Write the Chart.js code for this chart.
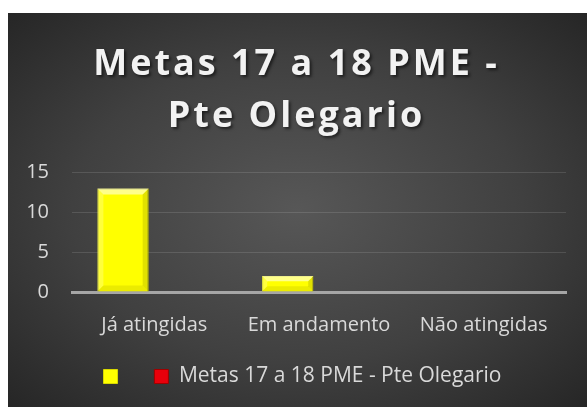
<!DOCTYPE html>
<html>
<head>
<meta charset="utf-8">
<script src="https://cdn.jsdelivr.net/npm/chart.js@4/dist/chart.umd.min.js"></script>
<style>
  html, body { margin: 0; padding: 0; background: #fff; }
  #wrap {
    position: absolute; left: 8px; top: 13px; width: 579px; height: 394px;
    background: radial-gradient(ellipse farthest-corner at 50% 50%, #575757 0%, #404040 55%, #262626 100%);
  }
</style>
</head>
<body>
<div id="wrap"><canvas id="chart" width="579" height="394"></canvas></div>
<script>
// values
const categories = ["Já atingidas", "Em andamento", "Não atingidas"];
const seriesA = [13, 2, 0];
const seriesB = [0, 0, 0];
const seriesNames = ["   ", "Metas 17 a 18 PME - Pte Olegario"];
const titleLines = ["Metas 17 a 18 PME -", "Pte Olegario"];
const yTicks = [0, 5, 10, 15];

const FONT = "'Open Sans', 'Noto Sans', sans-serif";

// wide letter spacing + soft shadow on the title, like the original
const titleStyle = {
  id: "titleStyle",
  beforeDraw(chart) {
    const tb = chart.titleBlock;
    if (!tb || tb._styled) return;
    const orig = tb.draw.bind(tb);
    tb.draw = function () {
      const ctx = chart.ctx;
      ctx.save();
      ctx.letterSpacing = "3px";
      ctx.shadowColor = "rgba(0,0,0,0.55)";
      ctx.shadowOffsetX = 2;
      ctx.shadowOffsetY = 2;
      ctx.shadowBlur = 3;
      orig();
      ctx.restore();
    };
    tb._styled = true;
  },
};

// the original legend sits a little right of centre
const legendNudge = {
  id: "legendNudge",
  afterLayout(chart) {
    if (!chart.legend) return;
    chart.legend.left += 6;
    chart.legend.right += 6;
  },
};

// simple bevel on each bar, using the bar elements' own geometry
const bevel = {
  id: "bevel",
  afterDatasetsDraw(chart) {
    const ctx = chart.ctx;
    chart.getDatasetMeta(0).data.forEach((bar) => {
      const p = bar.getProps(["x", "y", "base", "width"], true);
      const l = p.x - p.width / 2, r = p.x + p.width / 2, t = p.y, b = p.base;
      const h = b - t;
      if (h < 1) return;
      const s = Math.min(6, h / 3);
      const quad = (pts, fill) => {
        ctx.beginPath();
        ctx.moveTo(pts[0][0], pts[0][1]);
        for (let i = 1; i < pts.length; i++) ctx.lineTo(pts[i][0], pts[i][1]);
        ctx.closePath();
        ctx.fillStyle = fill;
        ctx.fill();
      };
      ctx.save();
      quad([[l, t], [r, t], [r - s, t + s], [l + s, t + s]], "rgba(255,255,230,0.6)");
      quad([[l, t], [l + s, t + s], [l + s, b - s], [l, b]], "rgba(255,255,200,0.3)");
      quad([[r, t], [r, b], [r - s, b - s], [r - s, t + s]], "rgba(120,120,0,0.22)");
      quad([[l, b], [l + s, b - s], [r - s, b - s], [r, b]], "rgba(120,120,0,0.15)");
      ctx.restore();
    });
  },
};

new Chart(document.getElementById("chart"), {
  type: "bar",
  data: {
    labels: categories,
    datasets: [
      {
        label: seriesNames[0],
        data: seriesA,
        backgroundColor: "#ffff00",
        borderColor: "#d8d800",
        borderWidth: 1,
        categoryPercentage: 0.76,
        barPercentage: 0.82,
      },
      {
        label: seriesNames[1],
        data: seriesB,
        backgroundColor: "#e8000b",
        borderColor: "#a00000",
        borderWidth: 1,
        categoryPercentage: 0.76,
        barPercentage: 0.82,
      },
    ],
  },
  options: {
    responsive: false,
    animation: false,
    layout: { padding: { left: 19, right: 21, top: 0, bottom: 10 } },
    plugins: {
      title: {
        display: true,
        text: titleLines,
        color: "#f2f2f2",
        font: { family: FONT, size: 36, weight: "bold", lineHeight: 1.44 },
        padding: { top: 26, bottom: 30 },
      },
      legend: {
        position: "bottom",
        labels: {
          color: "#d9d9d9",
          font: { family: FONT, size: 21 },
          boxWidth: 14,
          boxHeight: 14,
          padding: 10,
        },
      },
      tooltip: { enabled: false },
    },
    scales: {
      x: {
        grid: { display: false },
        border: { display: true, color: "#a6a6a6", width: 3 },
        ticks: { color: "#d9d9d9", font: { family: FONT, size: 20 }, padding: 13 },
        afterFit: (axis) => { axis.height += 6; },
      },
      y: {
        min: 0,
        max: 15,
        afterBuildTicks: (axis) => { axis.ticks = yTicks.map((v) => ({ value: v })); },
        afterFit: (axis) => { axis.width = 45; },
        grid: { color: "rgba(255,255,255,0.12)", drawTicks: false },
        border: { display: false },
        ticks: { color: "#d9d9d9", font: { family: FONT, size: 20 }, padding: 23 },
      },
    },
  },
  plugins: [titleStyle, legendNudge, bevel],
});
</script>
</body>
</html>
